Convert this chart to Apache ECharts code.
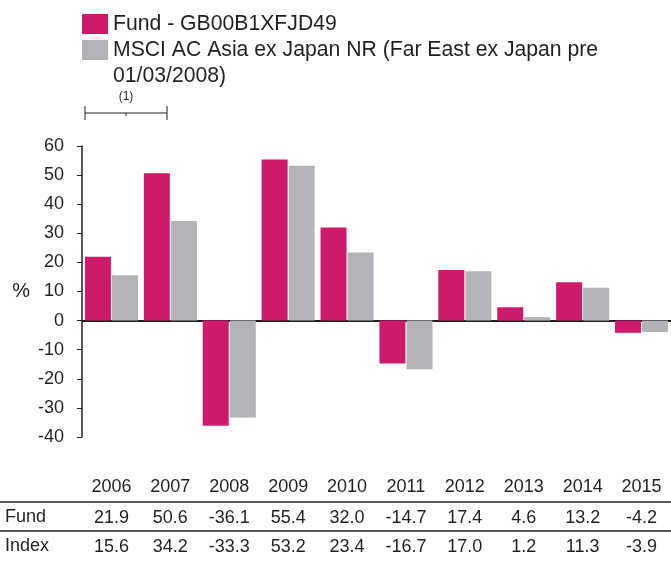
<!DOCTYPE html>
<html>
<head>
<meta charset="utf-8">
<script src="https://cdn.jsdelivr.net/npm/echarts@6/dist/echarts.min.js"></script>
<style>
    html, body { margin: 0; padding: 0; background: #fff; }
    #chart { width: 671px; height: 562px; }
</style>
</head>
<body>
<div id="chart"></div>
<script>
// data
const years = [ '2006', '2007', '2008', '2009', '2010', '2011', '2012', '2013', '2014', '2015' ];
const fundValues = [ 21.9, 50.6, -36.1, 55.4, 32.0, -14.7, 17.4, 4.6, 13.2, -4.2 ];
const indexValues = [ 15.6, 34.2, -33.3, 53.2, 23.4, -16.7, 17.0, 1.2, 11.3, -3.9 ];
const fundName = 'Fund - GB00B1XFJD49';
const indexName = 'MSCI AC Asia ex Japan NR (Far East ex Japan pre 01/03/2008)';
const rowNames = [ 'Fund', 'Index' ];

const textColor = '#231f20';
const font = 'Liberation Sans, Arial, Helvetica, sans-serif';

let myChart = echarts.init(document.getElementById('chart'), null, { renderer: 'canvas' });

// extra bottom axes used as the value table rows
const tableAxis = (data, offset) => ({
    type: 'category', position: 'bottom', gridIndex: 0, offset: offset, data: data,
    axisLine: { show: false, onZero: false }, axisTick: { show: false },
    axisLabel: { color: textColor, fontSize: 18, fontFamily: font, margin: 8, interval: 0 }
});

myChart.setOption({
    animation: false,
    color: [ '#cd1b6a', '#b2b3b6' ],
    textStyle: { fontFamily: font },
    legend: {
        orient: 'vertical', left: 82, top: 11, padding: 0,
        itemWidth: 26, itemHeight: 20, itemGap: -26, itemTextGap: 16,
        icon: 'rect',
        data: [ fundName, indexName ],
        formatter: function (name) {
            // wrapped name: a blank first line keeps the first text line level with the swatch
            return name.indexOf(' 01/') > 0 ? '\n' + name.replace(' 01/', '\n01/') : name;
        },
        textStyle: { color: textColor, fontSize: 21.2, lineHeight: 26 },
        selectedMode: false
    },
    grid: { left: 82, right: 0, top: 146, bottom: 125 },
    xAxis: [
        {
            type: 'category', data: years, position: 'bottom',
            axisLine: { onZero: true, lineStyle: { color: textColor, width: 2 } },
            axisTick: { show: false }, axisLabel: { show: false }
        },
        tableAxis(years, 33),
        tableAxis(fundValues.map(v => v.toFixed(1)), 64),
        tableAxis(indexValues.map(v => v.toFixed(1)), 93)
    ],
    yAxis: {
        type: 'value', min: -40, max: 60, interval: 10,
        name: '%', nameLocation: 'middle', nameRotate: 0, nameGap: 52,
        nameTextStyle: { color: textColor, fontSize: 20 },
        axisLine: { show: true, lineStyle: { color: textColor, width: 1.5 } },
        axisTick: { show: true, length: 5, lineStyle: { color: textColor } },
        axisLabel: { color: textColor, fontSize: 18, margin: 18 },
        splitLine: { show: false }
    },
    series: [
        { name: fundName, type: 'bar', barWidth: 26, barGap: '4%', data: fundValues },
        { name: indexName, type: 'bar', barWidth: 26, barGap: '4%', data: indexValues }
    ],
    graphic: [
        // bracket (1)
        { type: 'line', shape: { x1: 85, y1: 113, x2: 167, y2: 113 }, style: { stroke: textColor, lineWidth: 1 } },
        { type: 'line', shape: { x1: 85, y1: 106, x2: 85, y2: 120 }, style: { stroke: textColor, lineWidth: 1 } },
        { type: 'line', shape: { x1: 167, y1: 106, x2: 167, y2: 120 }, style: { stroke: textColor, lineWidth: 1 } },
        { type: 'line', shape: { x1: 126, y1: 113, x2: 126, y2: 116 }, style: { stroke: textColor, lineWidth: 1 } },
        { type: 'text', x: 126, y: 97, style: { text: '(1)', fontSize: 12, fontFamily: font, fill: textColor, align: 'center', verticalAlign: 'middle' } },
        // table rules
        { type: 'line', shape: { x1: 0, y1: 502, x2: 671, y2: 502 }, style: { stroke: textColor, lineWidth: 1.5 } },
        { type: 'line', shape: { x1: 0, y1: 531, x2: 671, y2: 531 }, style: { stroke: textColor, lineWidth: 1.5 } },
        // row titles
        { type: 'text', x: 5, y: 517, style: { text: rowNames[0], fontSize: 18, fontFamily: font, fill: textColor, verticalAlign: 'middle' } },
        { type: 'text', x: 5, y: 546, style: { text: rowNames[1], fontSize: 18, fontFamily: font, fill: textColor, verticalAlign: 'middle' } }
    ]
});
window.addEventListener('resize', function () {
    myChart.resize();
});
</script>
</body>
</html>
